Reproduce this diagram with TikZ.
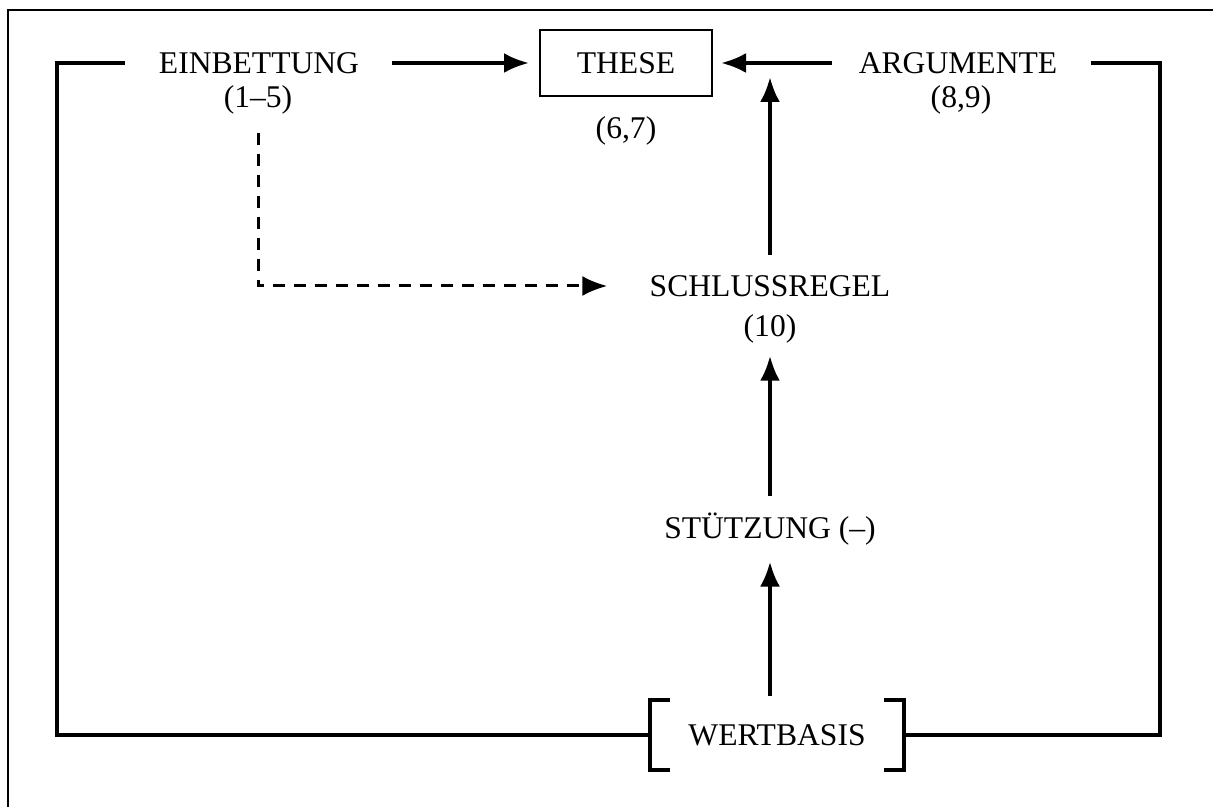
\documentclass[tikz,border=0pt]{standalone}
\usepackage{fontspec}
\setmainfont{Liberation Serif}
\usetikzlibrary{arrows.meta}
\begin{document}
\begin{tikzpicture}[x=0.5pt,y=-0.5pt,>={Latex[length=12.5pt,width=10pt]},line join=miter,
  lbl/.style={inner sep=0pt,font=\fontsize{15.8}{18}\selectfont},
  heavy/.style={line width=2pt},
  arr/.style={->,line width=2pt},
  ]
  \useasboundingbox (0,0) rectangle (1213,807);
%%
  % Frame
  \draw [line width=0.8pt] (1213,10) -- (8,10) -- (8,807);
  % Node: Einbettung
  \node [lbl] (einb) at (259,63) {EINBETTUNG};
  \node [lbl] (einbnr) at (258,100) {(1–5)};
  % Node: These
  \node [lbl,draw,line width=1pt,minimum width=86pt,minimum height=33pt] (these) at (626,63) {THESE};
  \node [lbl] (thesenr) at (626,131) {(6,7)};
  % Node: Argumente
  \node [lbl] (argu) at (958,63) {ARGUMENTE};
  \node [lbl] (argunr) at (961,100) {(8,9)};
  % Node: Schlussregel
  \node [lbl] (schluss) at (770,286) {SCHLUSSREGEL};
  \node [lbl] (schlussnr) at (770,329) {(10)};
  % Node: Stuetzung
  \node [lbl] (stuetz) at (770,529) {STÜTZUNG (–)};
  % Node: Wertbasis
  \node [lbl,minimum width=127pt,minimum height=34.5pt] (wert) at (777,735) {WERTBASIS};
  \draw [heavy] ([xshift=10pt]wert.north west) -- (wert.north west) -- (wert.south west) -- ++(20,0);
  \draw [heavy] ([xshift=-10pt]wert.north east) -- (wert.north east) -- (wert.south east) -- ++(-20,0);
  % Coordinates
  \coordinate (lefttop) at (57,63);
  \coordinate (righttop) at (1160,63);
  \coordinate (inf) at (schluss |- these.east);
  % Edge: Einbettung -> These
  \draw [arr,shorten <=16.5pt,shorten >=5pt] (einb.east) -- (these.west);
  % Edge: Argumente -> These
  \draw [arr,shorten <=13pt,shorten >=4pt] (argu.west) -- (these.east);
  % Edge: Schlussregel -> Inference
  \draw [arr,shorten <=10pt,shorten >=7pt] (schluss.north) -- (inf);
  % Edge: Stuetzung -> Schlussregel
  \draw [arr,shorten <=8pt,shorten >=6pt] (stuetz.north) -- (schlussnr.south);
  % Edge: Wertbasis -> Stuetzung
  \draw [arr,shorten <=2pt,shorten >=8pt] (wert.north -| stuetz) -- (stuetz.south);
  % Edge: Einbettung -> Schlussregel
  \draw [->,line width=1.5pt,dash pattern=on 6pt off 4.5pt,shorten <=9pt,shorten >=21pt] (einbnr.south) |- (schluss.west);
  % Edge: Wertbasis -- Einbettung
  \draw [heavy] ([xshift=-17pt]einb.west) -- (lefttop) |- (wert.west);
  % Edge: Wertbasis -- Argumente
  \draw [heavy] ([xshift=16.5pt]argu.east) -- (righttop) |- (wert.east);
%
\end{tikzpicture}
\end{document}
